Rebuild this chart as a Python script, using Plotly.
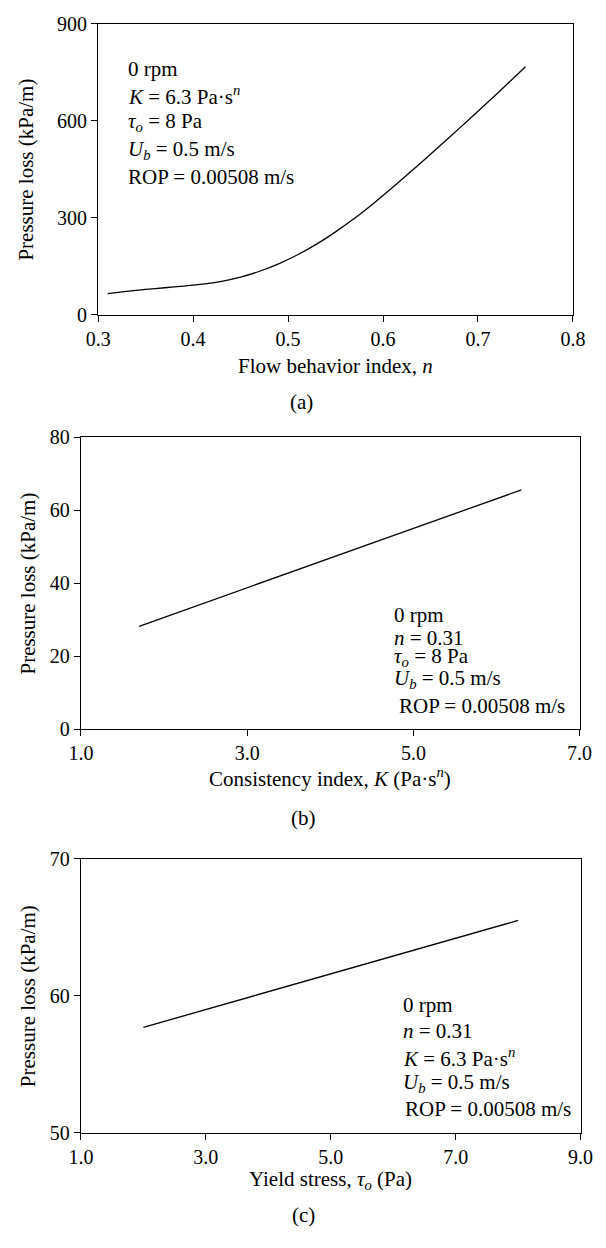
import plotly.graph_objects as go

W, H = 606, 1248
FONT = "Liberation Serif"

# ---- data ----
n_vals = [0.31, 0.33, 0.35, 0.37, 0.39, 0.41, 0.43, 0.45, 0.47, 0.49, 0.51, 0.53,
          0.55, 0.57, 0.59, 0.61, 0.63, 0.65, 0.67, 0.69, 0.71, 0.73, 0.75]
dp_a = [65, 72, 78, 83, 88, 94, 103, 116, 134, 157, 185, 218,
        256, 298, 344, 393, 444, 496, 549, 602, 656, 711, 767]

K_vals = [1.7, 6.3]
dp_b = [28.2, 65.6]

tau_vals = [2.0, 8.0]
dp_c = [57.7, 65.5]

xt_a = [0.3, 0.4, 0.5, 0.6, 0.7, 0.8]
yt_a = [0, 300, 600, 900]
xt_b = [1.0, 3.0, 5.0, 7.0]
yt_b = [0, 20, 40, 60, 80]
xt_c = [1.0, 3.0, 5.0, 7.0, 9.0]
yt_c = [50, 60, 70]

# ---- layout helpers (pixel -> paper) ----
def fx(p):
    return p / W

def fy(p):
    return 1 - p / H

panels = {
    "a": dict(x0=89, x1=585, y0=13, y1=309),
    "b": dict(x0=71, x1=592, y0=434, y1=731),
    "c": dict(x0=71, x1=593, y0=863, y1=1142),
}

fig = go.Figure()
line = dict(color="black", width=1.3)
fig.add_trace(go.Scatter(x=n_vals, y=dp_a, mode="lines",
                         line=dict(**line, shape="spline", smoothing=0.6),
                         xaxis="x", yaxis="y", showlegend=False))
fig.add_trace(go.Scatter(x=K_vals, y=dp_b, mode="lines", line=line,
                         xaxis="x2", yaxis="y2", showlegend=False))
fig.add_trace(go.Scatter(x=tau_vals, y=dp_c, mode="lines", line=line,
                         xaxis="x3", yaxis="y3", showlegend=False))

ax_style = dict(showline=True, linecolor="black", linewidth=1.3, mirror=True,
                ticks="outside", ticklen=6, tickwidth=1.3, tickcolor="black",
                showgrid=False, zeroline=False,
                tickfont=dict(family=FONT, size=20, color="black"))

def xa(p, rng, tv, fmt):
    return dict(domain=[fx(p["x0"]), fx(p["x1"])], range=rng, tickvals=tv,
                ticktext=[fmt.format(v) for v in tv], **ax_style)

def ya(p, rng, tv):
    return dict(domain=[fy(p["y1"]), fy(p["y0"])], range=rng, tickvals=tv,
                ticktext=[str(v) for v in tv], **ax_style)

pa, pb, pc = panels["a"], panels["b"], panels["c"]
fig.update_layout(
    width=W, height=H, margin=dict(l=0, r=0, t=0, b=0),
    paper_bgcolor="white", plot_bgcolor="white",
    xaxis=dict(xa(pa, [0.3, 0.8], xt_a, "{:.1f}"), anchor="y"),
    yaxis=dict(ya(pa, [0, 900], yt_a), anchor="x"),
    xaxis2=dict(xa(pb, [1.0, 7.0], xt_b, "{:.1f}"), anchor="y2"),
    yaxis2=dict(ya(pb, [0, 80], yt_b), anchor="x2"),
    xaxis3=dict(xa(pc, [1.0, 9.0], xt_c, "{:.1f}"), anchor="y3"),
    yaxis3=dict(ya(pc, [50, 70], yt_c), anchor="x3"),
)

ann = []

def text(x, y, s, xanchor="left", angle=0, size=21):
    ann.append(dict(x=fx(x), y=fy(y), xref="paper", yref="paper", text=s, showarrow=False,
                    xanchor=xanchor, yanchor="middle", textangle=angle,
                    font=dict(family=FONT, size=size, color="black")))

ytitle = "Pressure loss (kPa/m)"
# Panel (a)
text(14, (pa["y0"] + pa["y1"]) / 2, ytitle, "center", -90)
text((pa["x0"] + pa["x1"]) / 2, 361, "Flow behavior index, <i>n</i>", "center")
text(301, 398, "(a)", "center")
for yy, s in zip([59, 86, 113, 141, 169],
                 ["0 rpm", "<i>K</i> = 6.3 Pa·s<sup><i>n</i></sup>", "<i>τ<sub>o</sub></i> = 8 Pa",
                  "<i>U<sub>b</sub></i> = 0.5 m/s", "ROP = 0.00508 m/s"]):
    text(118, yy, s)

# Panel (b)
text(16, (pb["y0"] + pb["y1"]) / 2, ytitle, "center", -90)
text((pb["x0"] + pb["x1"]) / 2, 780, "Consistency index, <i>K</i> (Pa·s<sup><i>n</i></sup>)", "center")
text(303, 821, "(b)", "center")
for yy, xx, s in zip([615, 638, 658, 680, 707], [396, 396, 396, 396, 401],
                     ["0 rpm", "<i>n</i> = 0.31", "<i>τ<sub>o</sub></i> = 8 Pa",
                      "<i>U<sub>b</sub></i> = 0.5 m/s", "ROP = 0.00508 m/s"]):
    text(xx, yy, s)

# Panel (c)
text(16, (pc["y0"] + pc["y1"]) / 2, ytitle, "center", -90)
text((pc["x0"] + pc["x1"]) / 2, 1190, "Yield stress, <i>τ<sub>o</sub></i> (Pa)", "center")
text(303, 1226, "(c)", "center")
for yy, xx, s in zip([1012, 1038, 1065, 1091, 1118], [405, 405, 405, 405, 407],
                     ["0 rpm", "<i>n</i> = 0.31", "<i>K</i> = 6.3 Pa·s<sup><i>n</i></sup>",
                      "<i>U<sub>b</sub></i> = 0.5 m/s", "ROP = 0.00508 m/s"]):
    text(xx, yy, s)

fig.update_layout(annotations=ann)
fig.write_html("out.html")
